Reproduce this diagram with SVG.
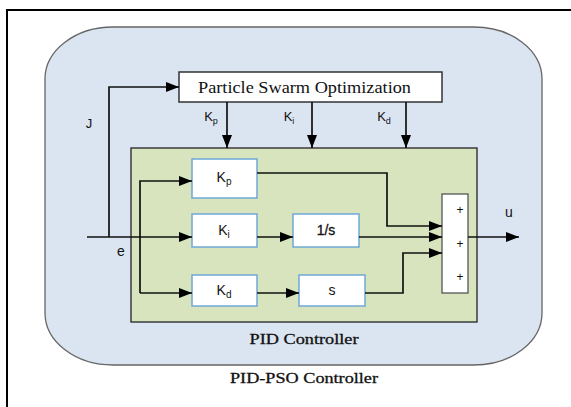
<svg xmlns="http://www.w3.org/2000/svg" width="571" height="407" viewBox="0 0 571 407">
<style>
.sans{font-family:"Liberation Sans",Arial,sans-serif;fill:#111;}
.serif{font-family:"Liberation Serif","Times New Roman",serif;fill:#111;}
.blk{fill:#fff;stroke:#6fa8d6;stroke-width:1.5;}
.ln{fill:none;stroke:#111;stroke-width:1.7;}
</style>
<defs>
<marker id="ah" markerUnits="userSpaceOnUse" markerWidth="13" markerHeight="10" refX="13" refY="5" orient="auto">
<path d="M0,0 L13,5 L0,10 Z" fill="#000"/>
</marker>
</defs>
<rect width="571" height="407" fill="#fff"/>
<path d="M7,407 V10 H571" fill="none" stroke="#000" stroke-width="2"/>
<g id="pso-controller">
<rect x="45" y="27" width="497" height="338" rx="68" ry="52" fill="#dbe5f1" stroke="#666" stroke-width="1.3"/>
<text class="serif" x="304" y="383" font-size="15" stroke="#111" stroke-width="0.3" text-anchor="middle" textLength="148" lengthAdjust="spacingAndGlyphs">PID-PSO Controller</text>
</g>
<g id="pid-controller">
<rect x="131" y="148" width="346" height="174" fill="#d7e4bd" stroke="#222" stroke-width="1.3"/>
<text class="serif" x="304" y="344" font-size="15" stroke="#111" stroke-width="0.3" text-anchor="middle" textLength="109" lengthAdjust="spacingAndGlyphs">PID Controller</text>
</g>
<g id="pso">
<rect x="179" y="72" width="263" height="30" fill="#fff" stroke="#333" stroke-width="1.5"/>
<text class="serif" x="304.5" y="93" font-size="17" text-anchor="middle" textLength="213" lengthAdjust="spacingAndGlyphs">Particle Swarm Optimization</text>
</g>
<g id="kp">
<rect class="blk" x="192" y="159" width="65" height="39"/>
<text class="sans" x="224" y="182" font-size="14" text-anchor="middle">K<tspan font-size="10" dy="3">p</tspan></text>
</g>
<g id="ki">
<rect class="blk" x="192" y="214" width="65" height="33"/>
<text class="sans" x="224" y="235" font-size="14" text-anchor="middle">K<tspan font-size="10" dy="3">i</tspan></text>
</g>
<g id="kd">
<rect class="blk" x="192" y="275" width="65" height="31"/>
<text class="sans" x="224" y="295" font-size="14" text-anchor="middle">K<tspan font-size="10" dy="3">d</tspan></text>
</g>
<g id="integrator">
<rect class="blk" x="293" y="214" width="66" height="33"/>
<text class="sans" x="326" y="235" font-size="14" stroke="#111" stroke-width="0.3" text-anchor="middle">1/s</text>
</g>
<g id="derivative">
<rect class="blk" x="299" y="275" width="66" height="31"/>
<text class="sans" x="332" y="295" font-size="14" text-anchor="middle">s</text>
</g>
<g id="sum">
<rect x="442" y="194" width="26" height="99" fill="#fff" stroke="#555" stroke-width="1.3"/>
<text class="sans" x="460" y="214" font-size="12" text-anchor="middle">+</text>
<text class="sans" x="460" y="248" font-size="12" text-anchor="middle">+</text>
<text class="sans" x="460" y="281" font-size="12" text-anchor="middle">+</text>
</g>
<g id="connectors">
<path class="ln" d="M87,237 H192" marker-end="url(#ah)"/>
<path class="ln" d="M109,237 V87 H179" marker-end="url(#ah)"/>
<path class="ln" d="M140,293 V181 H192" marker-end="url(#ah)"/>
<path class="ln" d="M140,293 H192" marker-end="url(#ah)"/>
<path class="ln" d="M227,102 V148" marker-end="url(#ah)"/>
<path class="ln" d="M312,102 V148" marker-end="url(#ah)"/>
<path class="ln" d="M406,102 V148" marker-end="url(#ah)"/>
<path class="ln" d="M257,237 H293" marker-end="url(#ah)"/>
<path class="ln" d="M257,293 H299" marker-end="url(#ah)"/>
<path class="ln" d="M257,173 H387 V226 H442" marker-end="url(#ah)"/>
<path class="ln" d="M359,237 H442" marker-end="url(#ah)"/>
<path class="ln" d="M365,293 H403 V253 H442" marker-end="url(#ah)"/>
<path class="ln" d="M468,237 H519" marker-end="url(#ah)"/>
</g>
<g id="labels">
<text class="sans" x="89" y="128" font-size="13" text-anchor="middle">J</text>
<text class="sans" x="121" y="256" font-size="14" text-anchor="middle">e</text>
<text class="sans" x="509" y="217" font-size="14" text-anchor="middle">u</text>
<text class="sans" x="211" y="121" font-size="13" text-anchor="middle">K<tspan font-size="9" dy="3">p</tspan></text>
<text class="sans" x="289" y="121" font-size="13" text-anchor="middle">K<tspan font-size="9" dy="3">i</tspan></text>
<text class="sans" x="384" y="121" font-size="13" text-anchor="middle">K<tspan font-size="9" dy="3">d</tspan></text>
</g>
</svg>
